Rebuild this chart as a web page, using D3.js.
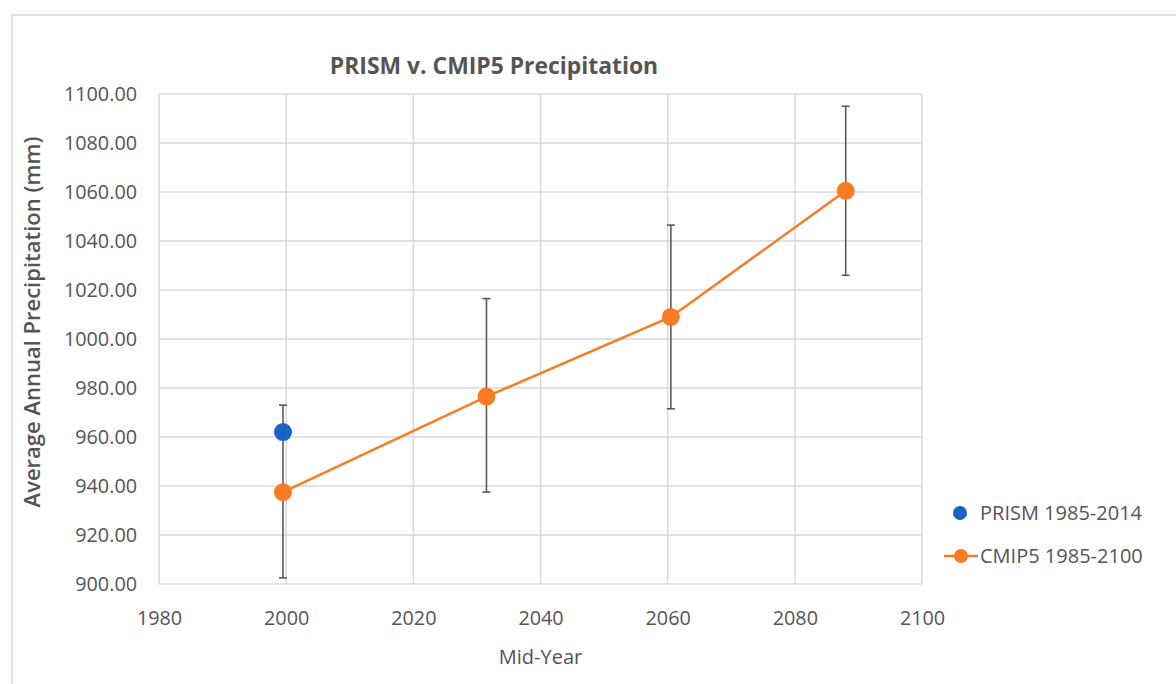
<!DOCTYPE html>
<html>
<head>
<meta charset="utf-8">
<script src="https://cdn.jsdelivr.net/npm/d3@7"></script>
<style>
  html, body { margin: 0; padding: 0; background: #fff; }
  text { font-family: "Open Sans", "Liberation Sans", sans-serif; }
</style>
</head>
<body>
<svg id="chart" width="1176" height="684"></svg>
<script>
// ---- data ----
const xTicks = [1980, 2000, 2020, 2040, 2060, 2080, 2100];
const yTicks = [900, 920, 940, 960, 980, 1000, 1020, 1040, 1060, 1080, 1100];

const prismYear = [1999.5];
const prismValue = [962];

const cmipYear = [1999.5, 2031.5, 2060.5, 2088];
const cmipValue = [937.5, 976.5, 1009, 1060.5];
const cmipLow = [902.5, 937.5, 971.5, 1026];
const cmipHigh = [973, 1016.5, 1046.5, 1095];

const seriesNames = ["PRISM 1985-2014", "CMIP5 1985-2100"];
const titleText = "PRISM v. CMIP5 Precipitation";
const xTitle = "Mid-Year";
const yTitle = "Average Annual Precipitation (mm)";

// ---- layout ----
const svg = d3.select("#chart");
const W = 1176, H = 684;
const plot = { left: 159, right: 922, top: 94, bottom: 584 };
const blue = "#1a63c4", orange = "#fa7b23", textCol = "#555555", gridCol = "#d9d9d9", errCol = "#5a5a5a";

// outer frame
svg.append("rect").attr("x", 12).attr("y", 15).attr("width", W).attr("height", H)
  .attr("fill", "none").attr("stroke", "#dcdcdc").attr("stroke-width", 1.5);

const x = d3.scaleLinear().domain([1980, 2100]).range([plot.left, plot.right]);
const y = d3.scaleLinear().domain([900, 1100]).range([plot.bottom, plot.top]);

// grid
const g = svg.append("g");
g.selectAll("line.h").data(yTicks).join("line")
  .attr("x1", plot.left).attr("x2", plot.right)
  .attr("y1", d => y(d)).attr("y2", d => y(d))
  .attr("stroke", gridCol).attr("stroke-width", 1.5);
g.selectAll("line.v").data(xTicks).join("line")
  .attr("y1", plot.top).attr("y2", plot.bottom)
  .attr("x1", d => x(d)).attr("x2", d => x(d))
  .attr("stroke", gridCol).attr("stroke-width", 1.5);

// axes (labels only)
const yAxis = d3.axisLeft(y).tickValues(yTicks).tickFormat(d3.format(".2f")).tickSize(0).tickPadding(22);
const ya = svg.append("g").attr("transform", `translate(${plot.left},0)`).call(yAxis);
ya.select(".domain").remove();
ya.selectAll("text").attr("fill", textCol).attr("font-size", 19.8).attr("font-family", "'Open Sans', sans-serif");

const xAxis = d3.axisBottom(x).tickValues(xTicks).tickFormat(d3.format("d")).tickSize(0).tickPadding(27);
const xa = svg.append("g").attr("transform", `translate(0,${plot.bottom})`).call(xAxis);
xa.select(".domain").remove();
xa.selectAll("text").attr("fill", textCol).attr("font-size", 19.8).attr("font-family", "'Open Sans', sans-serif");

// titles
svg.append("text").attr("x", 494).attr("y", 74).attr("text-anchor", "middle")
  .attr("font-size", 22.9).attr("font-weight", "bold").attr("fill", textCol).text(titleText);
svg.append("text").attr("x", (plot.left + plot.right) / 2).attr("y", 664).attr("text-anchor", "middle")
  .attr("font-size", 20).attr("fill", textCol).text(xTitle);
svg.append("text").attr("transform", `translate(40,${322}) rotate(-90)`).attr("text-anchor", "middle")
  .attr("font-size", 22).attr("font-weight", 600).attr("fill", textCol).text(yTitle);

// error bars
function errorBars(xs, lows, highs) {
  const eg = svg.append("g").attr("stroke", errCol).attr("stroke-width", 1.6);
  xs.forEach((xv, i) => {
    eg.append("line").attr("x1", x(xv)).attr("x2", x(xv)).attr("y1", y(lows[i])).attr("y2", y(highs[i]));
    eg.append("line").attr("x1", x(xv) - 4).attr("x2", x(xv) + 4).attr("y1", y(lows[i])).attr("y2", y(lows[i]));
    eg.append("line").attr("x1", x(xv) - 4).attr("x2", x(xv) + 4).attr("y1", y(highs[i])).attr("y2", y(highs[i]));
  });
}
errorBars(cmipYear, cmipLow, cmipHigh);

// CMIP5 line
const line = d3.line().x((d, i) => x(cmipYear[i])).y(d => y(d));
svg.append("path").datum(cmipValue).attr("d", line)
  .attr("fill", "none").attr("stroke", orange).attr("stroke-width", 2.5);
svg.selectAll("circle.cmip").data(cmipValue).join("circle")
  .attr("cx", (d, i) => x(cmipYear[i])).attr("cy", d => y(d)).attr("r", 9).attr("fill", orange);

// PRISM point
svg.selectAll("circle.prism").data(prismValue).join("circle")
  .attr("cx", (d, i) => x(prismYear[i])).attr("cy", d => y(d)).attr("r", 9).attr("fill", blue);

// legend
const lg = svg.append("g");
lg.append("circle").attr("cx", 960).attr("cy", 513).attr("r", 7).attr("fill", blue);
lg.append("text").attr("x", 980).attr("y", 513).attr("dy", "0.35em").attr("font-size", 20).attr("fill", textCol).text(seriesNames[0]);
lg.append("line").attr("x1", 944).attr("x2", 978).attr("y1", 556).attr("y2", 556).attr("stroke", orange).attr("stroke-width", 2.5);
lg.append("circle").attr("cx", 961).attr("cy", 556).attr("r", 7).attr("fill", orange);
lg.append("text").attr("x", 980).attr("y", 556).attr("dy", "0.35em").attr("font-size", 20).attr("fill", textCol).text(seriesNames[1]);
</script>
</body>
</html>
